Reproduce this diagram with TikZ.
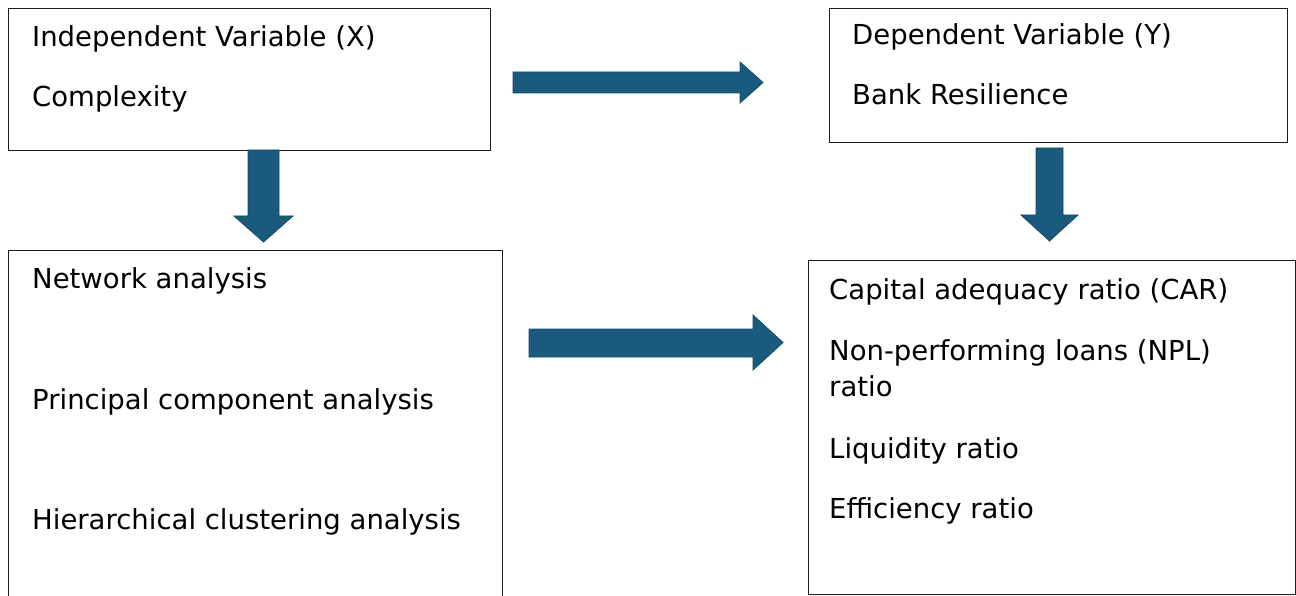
\documentclass[tikz,border=0pt]{standalone}
\usepackage{fontspec}
\setmainfont{DejaVu Sans}
\usepackage{xcolor}
\usetikzlibrary{positioning}
\definecolor{arrowteal}{HTML}{1A5B7D}
\definecolor{arrowedge}{HTML}{134B68}
\definecolor{boxline}{HTML}{1A1A1A}

\begin{document}
\begin{tikzpicture}[x=1pt,y=-1pt,
  every node/.style={font=\fontsize{27.5}{36}\selectfont,inner sep=0pt,anchor=base west},
  varbox/.style={draw=boxline,line width=1.1pt,anchor=north west},
  blockarrow/.style={fill=arrowteal,draw=arrowedge,line width=0.8pt,line join=miter}]
  \useasboundingbox (0,0) rectangle (1296,596);
  \clip (0,0) rectangle (1296,596);
  % boxes
  \node[varbox,minimum width=482pt,minimum height=142pt] (indep) at (8,8) {};
  \node[varbox,minimum width=458pt,minimum height=134pt] (dep) at (829,8) {};
  \node[varbox,minimum width=494pt,minimum height=400pt] (methods) at (8,250) {};
  \node[varbox,minimum width=487pt,minimum height=334pt] (ratios) at (808,260) {};
  % texts
  \node (indeptitle) at (32,47) {Independent Variable (X)};
  \node (indepname) at (32,107) {Complexity};
  \node (deptitle) at (852,45) {Dependent Variable (Y)};
  \node (depname) at (852,105) {Bank Resilience};
  \node (network) at (32,288) {Network analysis};
  \node (pca) at (32,409) {Principal component analysis};
  \node (hca) at (32,529) {Hierarchical clustering analysis};
  \node (car) at (829,299) {Capital adequacy ratio (CAR)};
  \node (npl) at (829,360) {Non-performing loans (NPL)};
  \node (nplb) at (829,396) {ratio};
  \node (liq) at (829,458) {Liquidity ratio};
  \node (eff) at (829,518) {Efficiency ratio};
  % block arrows
  \draw[blockarrow] (513,72) -- (740,72) -- (740,62) -- (763,82.5) -- (740,103)
    -- (740,93) -- (513,93) -- cycle;
  \draw[blockarrow] (248,150) -- (279,150) -- (279,216) -- (293,216) -- (263.5,242)
    -- (234,216) -- (248,216) -- cycle;
  \draw[blockarrow] (529,329) -- (753,329) -- (753,315) -- (783,342.5) -- (753,370)
    -- (753,357) -- (529,357) -- cycle;
  \draw[blockarrow] (1036,148) -- (1063,148) -- (1063,215) -- (1078,215) -- (1049.5,241)
    -- (1021,215) -- (1036,215) -- cycle;
\end{tikzpicture}
\end{document}
